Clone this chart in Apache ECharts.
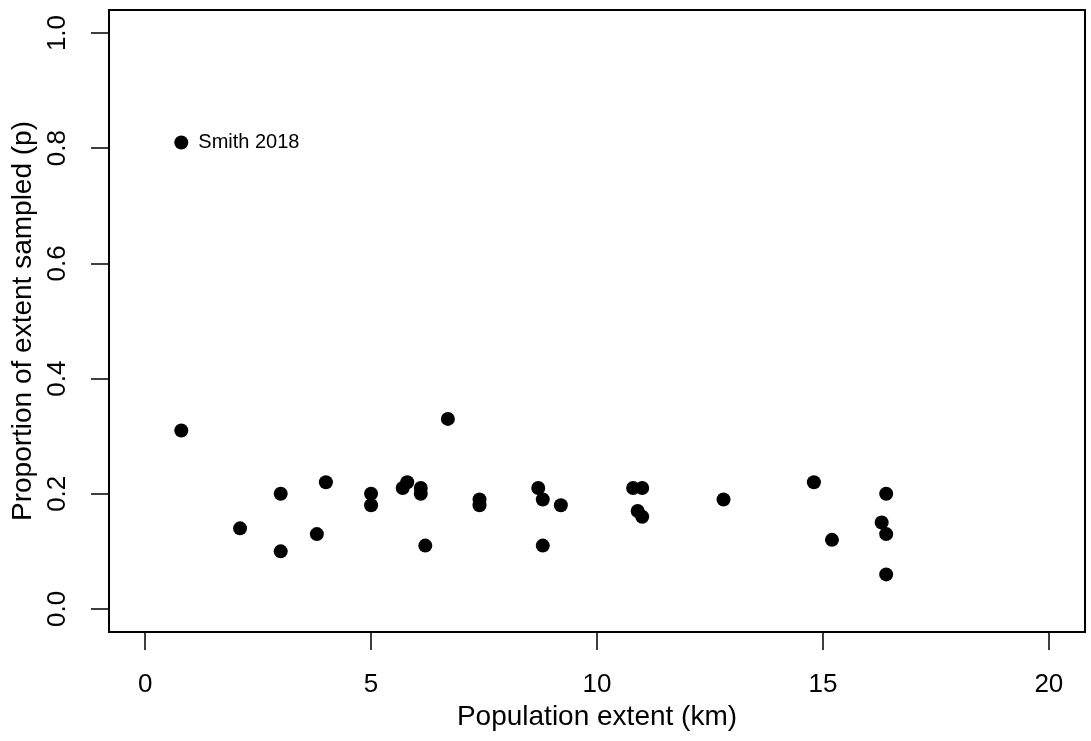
<!DOCTYPE html>
<html>
<head>
<meta charset="utf-8">
<title>Proportion of extent sampled</title>
<script src="https://cdn.jsdelivr.net/npm/echarts@6/dist/echarts.min.js"></script>
<style>
  html, body { margin: 0; padding: 0; background: #fff; }
  #chart { width: 1091px; height: 741px; }
</style>
</head>
<body>
<div id="chart"></div>
<script>
// population extent (km) and proportion of extent sampled
const extentKm = [0.8, 0.8, 2.1, 3.0, 3.0, 3.8, 4.0, 5.0, 5.0, 5.7, 5.8, 6.1, 6.1, 6.2, 6.7, 7.4,
  7.4, 8.7, 8.8, 8.8, 9.2, 10.8, 11.0, 10.9, 11.0, 12.8, 14.8, 15.2, 16.3, 16.4, 16.4, 16.4]
const proportion = [0.81, 0.31, 0.14, 0.20, 0.10, 0.13, 0.22, 0.20, 0.18, 0.21, 0.22, 0.21, 0.20, 0.11, 0.33, 0.19,
  0.18, 0.21, 0.19, 0.11, 0.18, 0.21, 0.21, 0.17, 0.16, 0.19, 0.22, 0.12, 0.15, 0.20, 0.13, 0.06]
const pointLabels = ['Smith 2018']  // only the first point is annotated

const xTicks = [0, 5, 10, 15, 20]
const yTicks = [0, 0.2, 0.4, 0.6, 0.8, 1.0]

const font = '"Liberation Sans", Arial, sans-serif'

const points = extentKm.map((x, i) => {
  const item = { value: [x, proportion[i]] }
  if (pointLabels[i]) {
    item.label = {
      show: true,
      position: 'right',
      distance: 10,
      formatter: pointLabels[i],
      color: '#000',
      fontFamily: font,
      fontSize: 20
    }
  }
  return item
})

const chart = echarts.init(document.getElementById('chart'))
chart.setOption({
  animation: false,
  backgroundColor: '#fff',
  grid: {
    left: 109,
    right: 6,
    top: 10,
    bottom: 109,
    show: true,
    borderColor: '#000',
    borderWidth: 2,
    backgroundColor: 'transparent'
  },
  xAxis: {
    type: 'value',
    min: -0.8,
    max: 20.8,
    name: 'Population extent (km)',
    nameLocation: 'middle',
    nameGap: 70,
    nameTextStyle: { color: '#000', fontFamily: font, fontSize: 28 },
    axisLine: { show: false, onZero: false },
    splitLine: { show: false },
    axisTick: {
      show: true,
      inside: false,
      length: 18,
      customValues: xTicks,
      lineStyle: { color: '#000', width: 1.5 }
    },
    axisLabel: {
      customValues: xTicks,
      margin: 40,
      color: '#000',
      fontFamily: font,
      fontSize: 26
    }
  },
  yAxis: {
    type: 'value',
    min: -0.04,
    max: 1.04,
    name: 'Proportion of extent sampled (p)',
    nameLocation: 'middle',
    nameGap: 70,
    nameTextStyle: { color: '#000', fontFamily: font, fontSize: 28 },
    axisLine: { show: false, onZero: false },
    splitLine: { show: false },
    axisTick: {
      show: true,
      inside: false,
      length: 18,
      customValues: yTicks,
      lineStyle: { color: '#000', width: 1.5 }
    },
    axisLabel: {
      customValues: yTicks,
      rotate: 90,
      margin: 38,
      color: '#000',
      fontFamily: font,
      fontSize: 26,
      formatter: v => v.toFixed(1)
    }
  },
  series: [
    {
      type: 'scatter',
      symbol: 'circle',
      symbolSize: 14,
      itemStyle: { color: '#000', opacity: 1 },
      data: points
    }
  ]
})
</script>
</body>
</html>
